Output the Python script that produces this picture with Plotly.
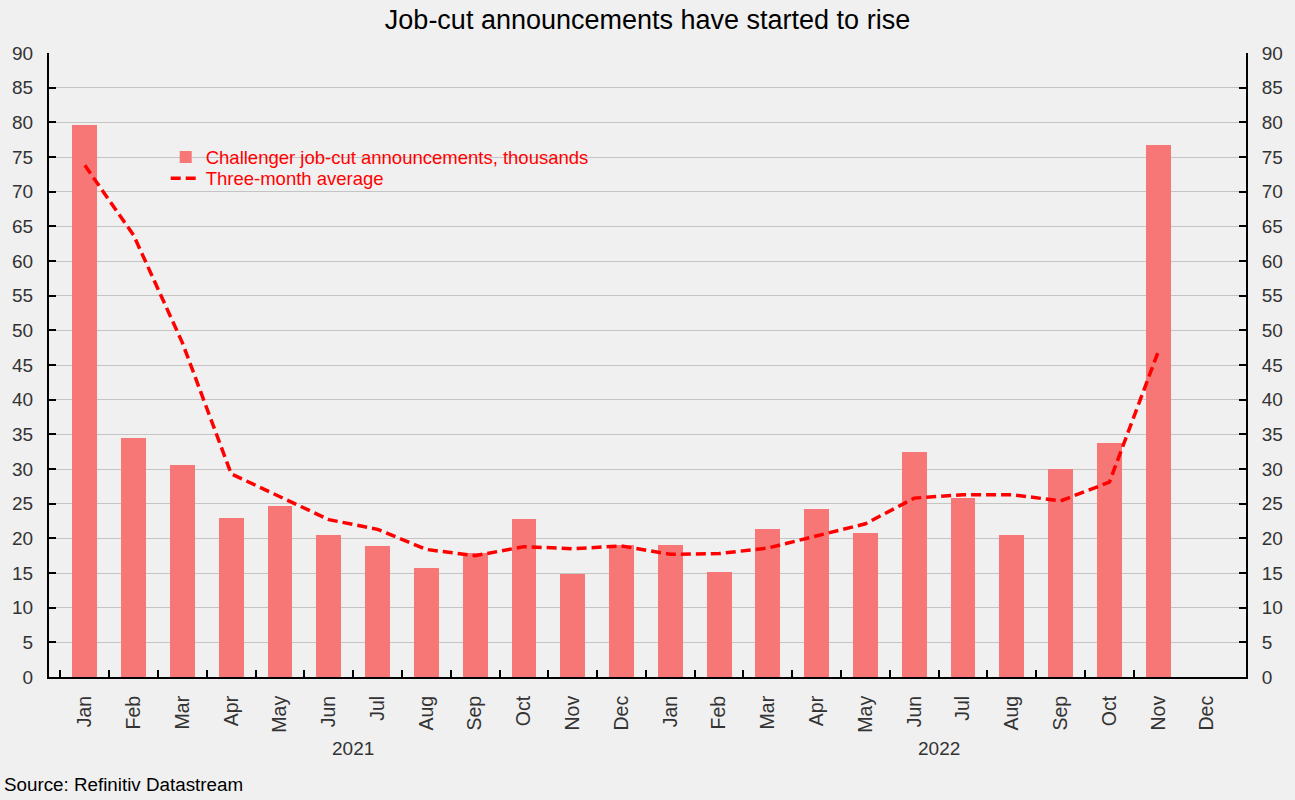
import plotly.graph_objects as go

months = ["Jan", "Feb", "Mar", "Apr", "May", "Jun", "Jul", "Aug", "Sep", "Oct", "Nov", "Dec",
          "Jan", "Feb", "Mar", "Apr", "May", "Jun", "Jul", "Aug", "Sep", "Oct", "Nov", "Dec"]
years = ["2021", "2022"]
job_cuts = [79.6, 34.5, 30.6, 22.9, 24.6, 20.5, 18.9, 15.7, 17.9, 22.8, 14.9, 19.1,
            19.1, 15.2, 21.4, 24.3, 20.7, 32.5, 25.8, 20.5, 30.0, 33.8, 76.8, None]
three_month_avg = [73.8, 63.7, 48.2, 29.3, 26.0, 22.7, 21.3, 18.4, 17.5, 18.8, 18.5, 18.9,
                   17.7, 17.8, 18.6, 20.3, 22.1, 25.8, 26.3, 26.3, 25.4, 28.1, 46.9, None]
y_ticks = list(range(0, 91, 5))

x = list(range(len(months)))
FONT = "Arial, Liberation Sans, sans-serif"

fig = go.Figure()
fig.add_trace(go.Bar(
    x=x, y=job_cuts, name="Challenger job-cut announcements, thousands",
    marker=dict(color="#f77777", line=dict(width=0)), width=0.51, legend="legend",
))
fig.add_trace(go.Scatter(
    x=x, y=three_month_avg, name="Three-month average", mode="lines",
    line=dict(color="#ff0000", width=3.5, dash="10px,5px"), yaxis="y2", legend="legend2",
))

for i, yr in enumerate(years):
    fig.add_annotation(x=5.5 + 12 * i, xref="x", y=-0.114, yref="paper", text=yr,
                       showarrow=False, yanchor="middle",
                       font=dict(family=FONT, size=19, color="#333333"))

fig.add_annotation(x=-0.039, xref="paper", y=-0.173, yref="paper",
                   text="Source: Refinitiv Datastream", showarrow=False,
                   xanchor="left", yanchor="middle",
                   font=dict(family=FONT, size=18.8, color="#000000"))

yax = dict(range=[0, 90], tickvals=y_ticks, ticks="inside", ticklen=7, tickwidth=2,
           tickcolor="#000000", showline=True, linecolor="#000000", linewidth=2,
           tickfont=dict(family=FONT, size=19, color="#333333"), zeroline=False,
           ticklabelstandoff=10)

leg = dict(xanchor="left", yanchor="top", bgcolor="rgba(0,0,0,0)",
           font=dict(family=FONT, size=18.5, color="#ff0000"))

fig.update_layout(
    width=1295, height=800,
    margin=dict(l=47, r=46, t=53, b=123),
    paper_bgcolor="#f0f0f0", plot_bgcolor="#f0f0f0",
    title=dict(text="Job-cut announcements have started to rise", x=0.5, xanchor="center",
               y=0.975, yanchor="middle", yref="container",
               font=dict(family=FONT, size=27, color="#000000")),
    bargap=0,
    showlegend=True,
    legend=dict(x=0.0975, y=0.863, **leg),
    legend2=dict(x=0.0975, y=0.829, **leg),
    xaxis=dict(range=[-0.735, 23.8], tickvals=x, ticktext=months, tickangle=-90,
               ticks="", showline=True, linecolor="#000000", linewidth=2,
               showgrid=False, zeroline=False, ticklabelstandoff=9,
               tickfont=dict(family=FONT, size=19.5, color="#333333"),
               minor=dict(tickvals=[v - 0.5 for v in x[:-1]], ticks="inside", ticklen=7,
                          tickwidth=2, tickcolor="#000000", showgrid=False)),
    yaxis=dict(**yax, side="left", showgrid=True, gridcolor="#c4c4c4", gridwidth=1),
    yaxis2=dict(**yax, side="right", overlaying="y", showgrid=False),
)

fig.write_html("out.html", config={"displayModeBar": False},
               post_script="document.body.style.margin='0';document.body.style.background='#f0f0f0';")
